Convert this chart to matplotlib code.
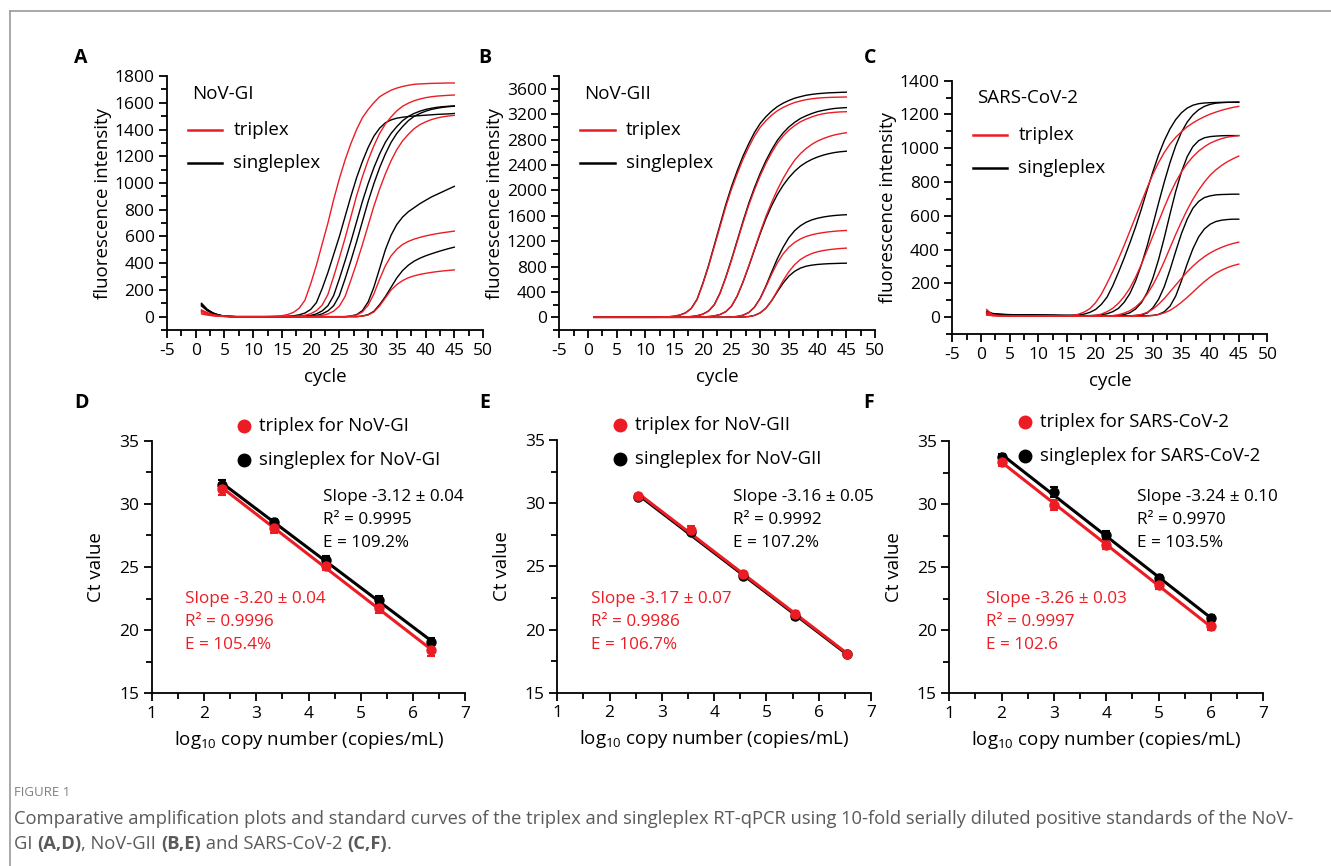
import numpy as np
import matplotlib
matplotlib.use("Agg")
import matplotlib.pyplot as plt
from matplotlib.ticker import MultipleLocator
from matplotlib.lines import Line2D

plt.rcParams["font.family"] = ["Open Sans", "DejaVu Sans"]
plt.rcParams["mathtext.fontset"] = "custom"
plt.rcParams["mathtext.rm"] = "Open Sans"
plt.rcParams["axes.linewidth"] = 1.3
plt.rcParams["axes.unicode_minus"] = False

RED = "#ec1c24"

# ---- amplification curves, fluorescence per cycle (cycles 1..45) ----
gi_triplex = [
    [50, 30, 15, 7, 3, 1, 0, 0, 0, 0, 0, 0, 2, 4, 7, 16, 32, 63, 123, 245, 385, 543, 700, 875, 1033,
     1173, 1295, 1400, 1488, 1549, 1601, 1645, 1671, 1694, 1710, 1722, 1731, 1738, 1741, 1743, 1745,
     1746, 1747, 1748, 1748],
    [40, 25, 12, 6, 2, 1, 0, 0, 0, 0, 0, 0, 0, 0, 0, 1, 2, 5, 10, 22, 45, 86, 166, 299, 440, 589, 747,
     905, 1046, 1170, 1278, 1370, 1441, 1494, 1540, 1574, 1597, 1615, 1628, 1638, 1645, 1650, 1653,
     1656, 1658],
    [20, 12, 6, 3, 1, 0, 0, 0, 0, 0, 0, 0, 0, 0, 0, 0, 0, 0, 1, 2, 5, 9, 20, 41, 79, 152, 273, 401, 538,
     682, 826, 954, 1068, 1167, 1250, 1315, 1364, 1406, 1436, 1457, 1474, 1486, 1495, 1501, 1506],
    [30, 18, 9, 4, 2, 1, 0, 0, 0, 0, 0, 0, 0, 0, 0, 0, 0, 0, 0, 0, 0, 0, 0, 0, 0, 0, 5, 12, 35, 85, 170,
     280, 380, 455, 505, 540, 563, 580, 593, 604, 613, 621, 628, 634, 640],
    [45, 27, 13, 6, 2, 1, 0, 0, 0, 0, 0, 0, 0, 0, 0, 0, 0, 0, 0, 0, 0, 0, 0, 0, 0, 0, 0, 0, 4, 12, 35, 80,
     140, 200, 240, 270, 291, 305, 316, 324, 331, 337, 342, 346, 350],
]
gi_singleplex = [
    [100, 55, 28, 12, 5, 2, 0, 0, 0, 0, 0, 0, 0, 0, 1, 3, 6, 14, 27, 54, 105, 210, 330, 465, 600, 750,
     900, 1040, 1160, 1265, 1350, 1410, 1450, 1472, 1485, 1492, 1497, 1501, 1504, 1507, 1510, 1513,
     1515, 1517, 1520],
    [85, 48, 24, 10, 4, 1, 0, 0, 0, 0, 0, 0, 0, 0, 0, 0, 1, 2, 5, 9, 21, 43, 82, 158, 284, 419, 561, 711,
     861, 995, 1114, 1217, 1304, 1371, 1422, 1466, 1498, 1520, 1537, 1550, 1559, 1566, 1571, 1574, 1577],
    [95, 52, 26, 11, 4, 1, 0, 0, 0, 0, 0, 0, 0, 0, 0, 0, 0, 1, 2, 5, 9, 21, 43, 82, 158, 284, 419, 561,
     711, 861, 995, 1114, 1217, 1304, 1371, 1422, 1466, 1498, 1520, 1537, 1550, 1559, 1566, 1571, 1574],
    [90, 50, 25, 11, 4, 1, 0, 0, 0, 0, 0, 0, 0, 0, 0, 0, 0, 0, 0, 0, 0, 0, 0, 0, 0, 0, 5, 15, 45, 110,
     220, 360, 500, 610, 690, 745, 785, 815, 845, 870, 895, 915, 935, 955, 975],
    [80, 45, 22, 10, 4, 1, 0, 0, 0, 0, 0, 0, 0, 0, 0, 0, 0, 0, 0, 0, 0, 0, 0, 0, 0, 0, 0, 0, 5, 15, 40,
     90, 150, 220, 290, 345, 385, 415, 437, 455, 470, 484, 497, 509, 520],
]

gii_triplex = [
    [0, 0, 0, 0, 0, 0, 0, 0, 0, 0, 0, 0, 3, 9, 17, 35, 70, 139, 278, 522, 800, 1114, 1427, 1740, 2018,
     2262, 2488, 2680, 2854, 2993, 3097, 3184, 3254, 3306, 3348, 3383, 3407, 3428, 3442, 3452, 3459,
     3463, 3466, 3468, 3470],
    [0, 0, 0, 0, 0, 0, 0, 0, 0, 0, 0, 0, 0, 0, 0, 2, 7, 13, 24, 49, 98, 196, 376, 621, 898, 1192, 1486,
     1763, 2008, 2230, 2426, 2595, 2743, 2857, 2948, 3020, 3079, 3121, 3157, 3186, 3206, 3220, 3229,
     3235, 3238],
    [0, 0, 0, 0, 0, 0, 0, 0, 0, 0, 0, 0, 0, 0, 0, 0, 0, 0, 1, 6, 12, 22, 44, 88, 177, 339, 560, 810, 1075,
     1340, 1590, 1811, 2011, 2188, 2341, 2474, 2577, 2659, 2724, 2777, 2815, 2848, 2874, 2892, 2907],
    [0, 0, 0, 0, 0, 0, 0, 0, 0, 0, 0, 0, 0, 0, 0, 0, 0, 0, 0, 0, 0, 0, 0, 2, 6, 14, 33, 75, 158, 295,
     480, 680, 860, 1000, 1105, 1180, 1234, 1273, 1300, 1320, 1335, 1347, 1356, 1363, 1368],
    [0, 0, 0, 0, 0, 0, 0, 0, 0, 0, 0, 0, 0, 0, 0, 0, 0, 0, 0, 0, 0, 0, 0, 0, 0, 2, 5, 12, 30, 70, 145,
     265, 420, 580, 720, 830, 910, 965, 1005, 1033, 1052, 1066, 1076, 1084, 1090],
]
gii_singleplex = [
    [0, 0, 0, 0, 0, 0, 0, 0, 0, 0, 0, 0, 4, 9, 18, 36, 71, 142, 284, 533, 817, 1136, 1456, 1775, 2059,
     2308, 2538, 2734, 2911, 3053, 3160, 3248, 3319, 3373, 3415, 3451, 3475, 3497, 3511, 3522, 3529,
     3536, 3539, 3543, 3546],
    [0, 0, 0, 0, 0, 0, 0, 0, 0, 0, 0, 0, 0, 0, 0, 2, 7, 13, 25, 50, 100, 199, 382, 631, 913, 1212, 1511,
     1793, 2042, 2268, 2467, 2639, 2789, 2905, 2998, 3071, 3131, 3174, 3210, 3240, 3260, 3277, 3290,
     3297, 3303],
    [0, 0, 0, 0, 0, 0, 0, 0, 0, 0, 0, 0, 0, 0, 0, 0, 0, 0, 1, 6, 12, 22, 44, 88, 175, 335, 553, 800, 1060,
     1318, 1555, 1760, 1935, 2080, 2200, 2300, 2380, 2440, 2488, 2525, 2555, 2578, 2596, 2608, 2616],
    [0, 0, 0, 0, 0, 0, 0, 0, 0, 0, 0, 0, 0, 0, 0, 0, 0, 0, 0, 0, 0, 0, 0, 2, 6, 14, 33, 75, 160, 300,
     495, 715, 925, 1105, 1255, 1365, 1442, 1497, 1535, 1561, 1580, 1594, 1604, 1611, 1616],
    [0, 0, 0, 0, 0, 0, 0, 0, 0, 0, 0, 0, 0, 0, 0, 0, 0, 0, 0, 0, 0, 0, 0, 0, 0, 2, 5, 12, 30, 70, 145,
     262, 405, 540, 650, 725, 775, 805, 822, 833, 840, 845, 848, 851, 853],
]

cov_triplex = [
    [45, 14, 10, 9, 8, 8, 7, 7, 7, 6, 6, 6, 6, 5, 7, 10, 17, 30, 50, 85, 135, 200, 270, 345, 425, 510,
     595, 680, 765, 845, 915, 975, 1025, 1065, 1098, 1127, 1150, 1170, 1187, 1202, 1214, 1225, 1234,
     1242, 1248],
    [30, 12, 9, 8, 8, 7, 7, 7, 6, 6, 6, 6, 5, 5, 5, 5, 5, 5, 7, 10, 18, 32, 52, 82, 122, 172, 237, 312,
     395, 480, 565, 650, 730, 800, 860, 910, 950, 983, 1009, 1030, 1045, 1057, 1066, 1071, 1075],
    [12, 9, 8, 8, 7, 7, 7, 6, 6, 6, 6, 6, 5, 5, 5, 5, 5, 5, 5, 5, 5, 7, 9, 14, 24, 38, 60, 92, 136, 190,
     255, 330, 410, 490, 565, 635, 698, 752, 800, 840, 872, 898, 920, 938, 954],
    [20, 10, 8, 8, 7, 7, 7, 6, 6, 6, 6, 6, 5, 5, 5, 5, 5, 5, 5, 5, 5, 5, 5, 5, 5, 7, 10, 16, 28, 47, 76,
     110, 150, 190, 230, 268, 302, 332, 358, 380, 398, 413, 426, 436, 444],
    [15, 9, 8, 7, 7, 7, 6, 6, 6, 6, 6, 6, 5, 5, 5, 5, 5, 5, 5, 5, 5, 5, 5, 5, 5, 5, 5, 5, 7, 10, 15, 25,
     40, 62, 88, 117, 148, 180, 210, 237, 260, 278, 293, 305, 314],
]
cov_singleplex = [
    [35, 22, 18, 16, 15, 14, 14, 13, 13, 12, 12, 11, 11, 10, 10, 11, 13, 18, 28, 45, 75, 118, 185, 265,
     350, 440, 535, 640, 752, 860, 960, 1045, 1115, 1170, 1210, 1238, 1255, 1264, 1268, 1270, 1271,
     1272, 1272, 1272, 1272],
    [30, 20, 17, 15, 14, 14, 13, 13, 12, 12, 11, 11, 10, 10, 10, 9, 9, 9, 9, 11, 14, 20, 32, 52, 88, 140,
     215, 310, 420, 545, 675, 800, 915, 1015, 1095, 1155, 1198, 1228, 1248, 1260, 1267, 1270, 1272,
     1273, 1274],
    [28, 19, 16, 15, 14, 13, 13, 12, 12, 11, 11, 10, 10, 10, 9, 9, 9, 9, 8, 8, 8, 8, 8, 10, 15, 26, 48,
     85, 145, 230, 340, 470, 610, 745, 860, 950, 1010, 1045, 1062, 1069, 1072, 1074, 1075, 1075, 1075],
    [25, 17, 15, 14, 13, 13, 12, 12, 11, 11, 10, 10, 10, 9, 9, 9, 9, 8, 8, 8, 8, 8, 8, 8, 8, 8, 10, 14,
     24, 55, 105, 180, 280, 390, 495, 580, 645, 685, 708, 718, 724, 726, 727, 728, 728],
    [22, 16, 14, 13, 12, 12, 11, 11, 11, 10, 10, 10, 9, 9, 9, 9, 8, 8, 8, 8, 8, 8, 8, 8, 8, 8, 8, 8, 8,
     10, 16, 32, 65, 125, 215, 315, 405, 475, 522, 550, 566, 574, 578, 580, 580],
]

# ---- standard curves: Ct vs log10 copies ----
gi_log = [2.34, 3.34, 4.34, 5.34, 6.34]
gi_ct_tri = [31.17, 28.06, 25.10, 21.73, 18.43]
gi_sd_tri = [0.45, 0.40, 0.35, 0.40, 0.45]
gi_ct_sgl = [31.50, 28.59, 25.55, 22.39, 19.09]
gi_sd_sgl = [0.35, 0.25, 0.30, 0.30, 0.30]

gii_log = [2.55, 3.55, 4.55, 5.55, 6.55]
gii_ct_tri = [30.57, 27.88, 24.39, 21.23, 18.06]
gii_sd_tri = [0.15, 0.30, 0.20, 0.20, 0.15]
gii_ct_sgl = [30.50, 27.74, 24.26, 21.07, 18.10]
gii_sd_sgl = [0.10, 0.15, 0.15, 0.20, 0.10]

cov_log = [2, 3, 4, 5, 6]
cov_ct_tri = [33.36, 29.93, 26.76, 23.59, 20.34]
cov_sd_tri = [0.35, 0.40, 0.30, 0.30, 0.30]
cov_ct_sgl = [33.70, 30.98, 27.55, 24.11, 20.94]
cov_sd_sgl = [0.30, 0.40, 0.35, 0.30, 0.30]

# slope, slope sd, R2, efficiency label
gi_fit_tri = (-3.20, 0.04, "0.9996", "105.4%")
gi_fit_sgl = (-3.12, 0.04, "0.9995", "109.2%")
gii_fit_tri = (-3.17, 0.07, "0.9986", "106.7%")
gii_fit_sgl = (-3.16, 0.05, "0.9992", "107.2%")
cov_fit_tri = (-3.26, 0.03, "0.9997", "102.6")
cov_fit_sgl = (-3.24, 0.10, "0.9970", "103.5%")


def style_axes(ax):
    ax.spines["top"].set_visible(False)
    ax.spines["right"].set_visible(False)
    ax.tick_params(which="major", direction="out", length=6, width=1.3, labelsize=12.5, pad=3)
    ax.tick_params(which="minor", direction="out", length=4, width=1.3)


def amp_panel(ax, triplex, singleplex, name, ymin, ymax, ystep):
    for curve in singleplex:
        ax.plot(np.arange(1, len(curve) + 1), curve, color="black", lw=1.0)
    for curve in triplex:
        ax.plot(np.arange(1, len(curve) + 1), curve, color=RED, lw=1.0)
    ax.set_xlim(-5, 50)
    ax.set_ylim(ymin, ymax)
    ax.xaxis.set_major_locator(MultipleLocator(5))
    ax.xaxis.set_minor_locator(MultipleLocator(2.5))
    ax.yaxis.set_major_locator(MultipleLocator(ystep))
    ax.yaxis.set_minor_locator(MultipleLocator(ystep / 2))
    style_axes(ax)
    ax.set_xlabel("cycle", fontsize=13.5, labelpad=7)
    ax.set_ylabel("fluorescence intensity", fontsize=13.5, labelpad=2)
    ax.text(0.08, 0.93, name, transform=ax.transAxes, fontsize=13.5, va="center")
    for y, color, label in [(0.787, RED, "triplex"), (0.657, "black", "singleplex")]:
        ax.plot([0.066, 0.175], [y, y], color=color, lw=1.8, transform=ax.transAxes, clip_on=False)
        ax.text(0.21, y, label, transform=ax.transAxes, fontsize=13.5, va="center")


def std_panel(ax, logc, ct_tri, sd_tri, ct_sgl, sd_sgl, fit_tri, fit_sgl, target,
              leg_x, leg_y, sgl_xy, tri_xy):
    xs = np.asarray(logc, dtype=float)
    for ct, sd, fit, color in [(ct_sgl, sd_sgl, fit_sgl, "black"), (ct_tri, sd_tri, fit_tri, RED)]:
        ct = np.asarray(ct, dtype=float)
        slope = fit[0]
        b = ct.mean() - slope * xs.mean()
        ax.plot([xs[0], xs[-1]], [b + slope * xs[0], b + slope * xs[-1]], color=color, lw=2.2)
        ax.errorbar(xs, ct, yerr=sd, fmt="o", ms=6.5, color=color, ecolor=color,
                    elinewidth=1.5, capsize=3, capthick=1.5)
    ax.set_xlim(1, 7)
    ax.set_ylim(15, 35)
    ax.xaxis.set_major_locator(MultipleLocator(1))
    ax.xaxis.set_minor_locator(MultipleLocator(0.5))
    ax.yaxis.set_major_locator(MultipleLocator(5))
    ax.yaxis.set_minor_locator(MultipleLocator(2.5))
    style_axes(ax)
    ax.set_xlabel(r"log$_{\mathregular{10}}$ copy number (copies/mL)", fontsize=13.5, labelpad=5)
    ax.set_ylabel("Ct value", fontsize=13.5, labelpad=10)

    for y, color, label in [(leg_y[0], RED, "triplex for " + target),
                            (leg_y[1], "black", "singleplex for " + target)]:
        ax.plot([leg_x], [y], "o", ms=9, color=color, transform=ax.transAxes, clip_on=False)
        ax.text(leg_x + 0.048, y, label, transform=ax.transAxes, fontsize=13.3, va="center")

    for (x0, y0), fit, color in [(sgl_xy, fit_sgl, "black"), (tri_xy, fit_tri, RED)]:
        lines = ["Slope %.2f \u00b1 %.2f" % (fit[0], fit[1]),
                 "R\u00b2 = " + fit[2],
                 "E = " + fit[3]]
        for i, s in enumerate(lines):
            ax.text(x0, y0 - i * 0.09, s, transform=ax.transAxes, fontsize=12.3,
                    color=color, va="center")


W, H = 1331, 866
fig = plt.figure(figsize=(W / 100, H / 100), dpi=100)

ax_a = fig.add_axes([0.1255, 0.6189, 0.2374, 0.2933])
ax_b = fig.add_axes([0.4202, 0.6189, 0.2372, 0.2933])
ax_c = fig.add_axes([0.7155, 0.6143, 0.2367, 0.2925])
ax_d = fig.add_axes([0.1140, 0.1994, 0.2356, 0.2917])
ax_e = fig.add_axes([0.4187, 0.2001, 0.2357, 0.2918])
ax_f = fig.add_axes([0.7132, 0.1994, 0.2359, 0.2914])

amp_panel(ax_a, gi_triplex, gi_singleplex, "NoV-GI", -100, 1800, 200)
amp_panel(ax_b, gii_triplex, gii_singleplex, "NoV-GII", -200, 3800, 400)
amp_panel(ax_c, cov_triplex, cov_singleplex, "SARS-CoV-2", -100, 1400, 200)

std_panel(ax_d, gi_log, gi_ct_tri, gi_sd_tri, gi_ct_sgl, gi_sd_sgl, gi_fit_tri, gi_fit_sgl,
          "NoV-GI", 0.295, (1.058, 0.924), (0.547, 0.776), (0.106, 0.372))
std_panel(ax_e, gii_log, gii_ct_tri, gii_sd_tri, gii_ct_sgl, gii_sd_sgl, gii_fit_tri, gii_fit_sgl,
          "NoV-GII", 0.200, (1.059, 0.925), (0.559, 0.773), (0.106, 0.370))
std_panel(ax_f, cov_log, cov_ct_tri, cov_sd_tri, cov_ct_sgl, cov_sd_sgl, cov_fit_tri, cov_fit_sgl,
          "SARS-CoV-2", 0.241, (1.074, 0.942), (0.599, 0.776), (0.117, 0.373))

# panel letters
for letter, px, py in [("A", 81, 58), ("B", 485, 58), ("C", 870, 58),
                       ("D", 81, 403), ("E", 485, 403), ("F", 869, 403)]:
    fig.text(px / W, 1 - py / H, letter, fontsize=14, fontweight="bold",
             ha="center", va="center")

# frame lines
fig.add_artist(Line2D([10 / W, 1], [1 - 10.5 / H, 1 - 10.5 / H], color="#9a9a9a", lw=1.2,
                      transform=fig.transFigure))
fig.add_artist(Line2D([10 / W, 10 / W], [0, 1 - 10.5 / H], color="#9a9a9a", lw=1.2,
                      transform=fig.transFigure))

# caption
cap = fig.add_axes([0, 0, 1, 1])
cap.axis("off")
cap.set_zorder(-1)
GREY = "#5a5a5a"
cap.text(14 / W, 1 - 792 / H, "FIGURE 1", fontsize=9.5, color="#808080", va="center")


def caption_line(parts, x, y):
    prev = None
    for s, bold in parts:
        kw = dict(fontsize=13.25, color=GREY, fontweight="bold" if bold else "normal")
        if prev is None:
            prev = cap.text(x, y, s, va="baseline", ha="left", **kw)
        else:
            prev = cap.annotate(s, xy=(1, 0), xycoords=prev, va="bottom", ha="left", **kw)


caption_line([("Comparative amplification plots and standard curves of the triplex and singleplex "
               "RT-qPCR using 10-fold serially diluted positive standards of the NoV-", False)],
             14 / W, 1 - 824 / H)
caption_line([("GI ", False), ("(A,D)", True), (", NoV-GII ", False), ("(B,E)", True),
              (" and SARS-CoV-2 ", False), ("(C,F)", True), (".", False)],
             14 / W, 1 - 849 / H)

fig.savefig("out.png", dpi=100)
